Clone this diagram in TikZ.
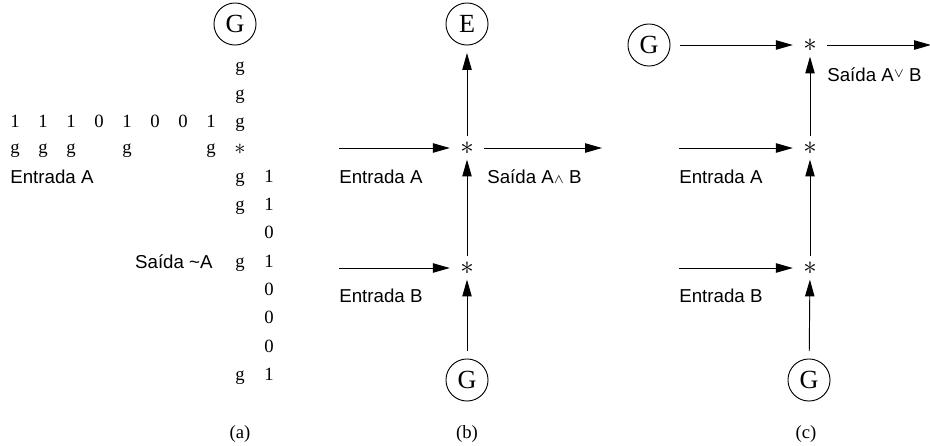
\documentclass[tikz,border=0pt]{standalone}
\usepackage{amsmath}
\usepackage{fontspec}
\setmainfont{Liberation Serif}
\setsansfont{Liberation Sans}
\usetikzlibrary{arrows.meta}

\begin{document}
\begin{tikzpicture}[x=0.0188cm, y=-0.0188cm,
            gen/.style={draw, circle, line width=0.5pt, minimum size=22.5pt, inner sep=0pt, font=\fontsize{14}{16}\selectfont},
            star/.style={inner sep=0pt, minimum width=18pt, minimum height=12pt, font=\fontsize{15}{16}\selectfont},
            bit/.style={inner sep=0pt, text height=1.5ex, text depth=0.25ex, font=\fontsize{10}{12}\selectfont},
            lbl/.style={inner sep=0pt, anchor=west, font=\sffamily\fontsize{10}{12}\selectfont},
            arr/.style={-{Triangle[length=9pt,width=5pt]}, line width=0.5pt}]
            \useasboundingbox (0,0) rectangle (930,445);
            \node (ga) at (235,24) [gen] {G};
            \node (ga1) at (240,66) [bit] {g};
            \node (ga2) at (240,94) [bit] {g};
            \node (ga3) at (240,122) [bit] {g};
            \node (t1) at (15,122) [bit] {1};
            \node (t2) at (43,122) [bit] {1};
            \node (t3) at (71,122) [bit] {1};
            \node (t4) at (99,122) [bit] {0};
            \node (t5) at (127,122) [bit] {1};
            \node (t6) at (155,122) [bit] {0};
            \node (t7) at (183,122) [bit] {0};
            \node (t8) at (211,122) [bit] {1};
            \node (m1) at (15,148) [bit] {g};
            \node (m2) at (43,148) [bit] {g};
            \node (m3) at (71,148) [bit] {g};
            \node (m5) at (127,148) [bit] {g};
            \node (m8) at (211,148) [bit] {g};
            \node (sa) at (240,149) [inner sep=0pt, font=\fontsize{13}{14}\selectfont] {$\ast$};
            \node (ina) at (10,177) [lbl] {Entrada A};
            \node (ga4) at (240,177) [bit] {g};
            \node (o1) at (269,177) [bit] {1};
            \node (ga5) at (240,205) [bit] {g};
            \node (o2) at (269,205) [bit] {1};
            \node (o3) at (269,233) [bit] {0};
            \node (outa) at (213,262) [lbl, anchor=east] {Saída \textasciitilde A};
            \node (ga6) at (240,262) [bit] {g};
            \node (o4) at (269,262) [bit] {1};
            \node (o5) at (269,290) [bit] {0};
            \node (o6) at (269,318) [bit] {0};
            \node (o7) at (269,347) [bit] {0};
            \node (ga7) at (240,375) [bit] {g};
            \node (o8) at (269,375) [bit] {1};
            \node (capa) at (240,433) [bit] {(a)};
            \node (eb) at (467,24) [gen] {E};
            \node (sb1) at (467,148) [star] {$\ast$};
            \node (sb2) at (467,268) [star] {$\ast$};
            \node (gb) at (467,380) [gen] {G};
            \coordinate (inb1) at (339,148);
            \coordinate (inb2) at (339,268);
            \coordinate (outb) at (602,148);
            \draw[arr] (inb1) -- (sb1);
            \draw[arr] (sb1) -- (outb);
            \draw[arr] (inb2) -- (sb2);
            \draw[arr] (sb2) -- (sb1);
            \draw[arr, shorten >=4pt] (sb1) -- (eb);
            \draw[arr, shorten <=4pt] (gb) -- (sb2);
            \node (lb1) at (339,177) [lbl] {Entrada A};
            \node (lb2) at (487,177) [lbl] {Saída A$\scriptstyle\wedge$ B};
            \node (lb3) at (339,296) [lbl] {Entrada B};
            \node (capb) at (467,433) [bit] {(b)};
            \node (gc1) at (649,45) [gen] {G};
            \node (sc1) at (810,45) [star] {$\ast$};
            \node (sc2) at (810,148) [star] {$\ast$};
            \node (sc3) at (810,268) [star] {$\ast$};
            \node (gc2) at (809,380) [gen] {G};
            \coordinate (inc1) at (679,148);
            \coordinate (inc2) at (679,268);
            \coordinate (outc) at (931,45);
            \draw[arr, shorten <=5pt] (gc1) -- (sc1);
            \draw[arr] (sc1) -- (outc);
            \draw[arr] (inc1) -- (sc2);
            \draw[arr] (inc2) -- (sc3);
            \draw[arr] (sc2) -- (sc1);
            \draw[arr] (sc3) -- (sc2);
            \draw[arr, shorten <=4pt] (gc2) -- (sc3);
            \node (lc1) at (827,75) [lbl] {Saída A\raisebox{0.4ex}{$\scriptstyle\vee$} B};
            \node (lc2) at (679,177) [lbl] {Entrada A};
            \node (lc3) at (679,296) [lbl] {Entrada B};
            \node (capc) at (806,433) [bit] {(c)};
        \end{tikzpicture}
\end{document}
